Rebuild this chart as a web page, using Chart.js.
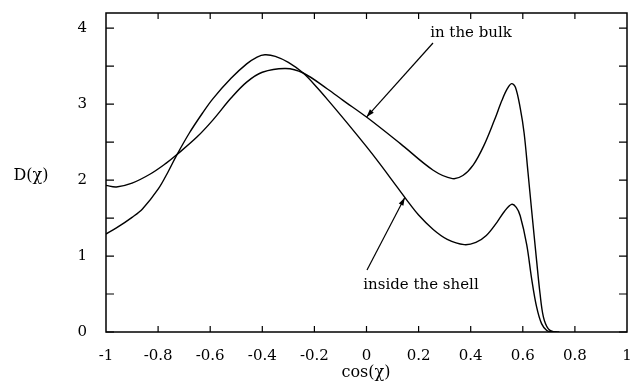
<!DOCTYPE html>
<html>
<head>
<meta charset="utf-8">
<script src="https://cdn.jsdelivr.net/npm/chart.js@4/dist/chart.umd.min.js"></script>
<style>
  html, body { margin: 0; padding: 0; background: #ffffff; }
  #wrap { width: 630px; height: 381px; }
</style>
</head>
<body>
<div id="wrap"><canvas id="c" width="630" height="381"></canvas></div>
<script>
// ---- data ----
const bulkX = [-1.00, -0.96, -0.90, -0.83, -0.77, -0.73, -0.65, -0.59, -0.52, -0.46, -0.40, -0.31, -0.243, -0.15, -0.09, 0.00, 0.13, 0.256, 0.33, 0.37, 0.41, 0.45, 0.49, 0.52, 0.54, 0.557, 0.572, 0.59, 0.605, 0.62, 0.634, 0.653, 0.666, 0.679, 0.698, 0.72, 0.74];
const bulkY = [1.93, 1.91, 1.96, 2.08, 2.22, 2.33, 2.57, 2.79, 3.08, 3.29, 3.42, 3.47, 3.41, 3.20, 3.05, 2.83, 2.48, 2.13, 2.02, 2.06, 2.20, 2.45, 2.78, 3.05, 3.20, 3.27, 3.22, 2.95, 2.62, 2.10, 1.60, 0.94, 0.51, 0.20, 0.04, 0.00, 0.00];

const shellX = [-1.00, -0.96, -0.90, -0.86, -0.80, -0.76, -0.73, -0.68, -0.63, -0.59, -0.52, -0.46, -0.42, -0.39, -0.35, -0.30, -0.243, -0.19, -0.147, -0.076, 0.00, 0.05, 0.10, 0.154, 0.20, 0.256, 0.31, 0.375, 0.42, 0.46, 0.50, 0.53, 0.557, 0.575, 0.59, 0.615, 0.634, 0.653, 0.672, 0.692, 0.71, 0.73];
const shellY = [1.29, 1.37, 1.51, 1.62, 1.88, 2.12, 2.32, 2.62, 2.88, 3.07, 3.34, 3.53, 3.62, 3.65, 3.63, 3.55, 3.41, 3.22, 3.05, 2.76, 2.44, 2.22, 1.99, 1.74, 1.54, 1.35, 1.22, 1.15, 1.18, 1.27, 1.44, 1.59, 1.68, 1.64, 1.53, 1.15, 0.70, 0.33, 0.11, 0.02, 0.00, 0.00];

const xTickValues = [-1, -0.8, -0.6, -0.4, -0.2, 0, 0.2, 0.4, 0.6, 0.8, 1];
const yTickValues = [0, 0.5, 1, 1.5, 2, 2.5, 3, 3.5, 4];
const yLabelValues = [0, 1, 2, 3, 4];
const xTitle = 'cos(\u03C7)';
const yTitle = 'D(\u03C7)';
const annBulk = 'in the bulk';
const annShell = 'inside the shell';

const FONT = '"DejaVu Serif", "Liberation Serif", serif';

function toPts(xs, ys) { return xs.map((x, i) => ({ x: x, y: ys[i] })); }

const framePlugin = {
  id: 'frame',
  afterDatasetsDraw(chart) {
    const ctx = chart.ctx;
    const a = chart.chartArea;
    const xs = chart.scales.x, ys = chart.scales.y;
    ctx.save();
    ctx.strokeStyle = '#000';
    ctx.lineWidth = 1.5;
    ctx.strokeRect(a.left, a.top, a.right - a.left, a.bottom - a.top);
    ctx.lineWidth = 1.2;
    ctx.beginPath();
    yTickValues.forEach(v => {
      const p = ys.getPixelForValue(v);
      ctx.moveTo(a.left, p); ctx.lineTo(a.left + 8, p);
      ctx.moveTo(a.right, p); ctx.lineTo(a.right - 8, p);
    });
    xTickValues.forEach(v => {
      if (v === -1 || v === 1) return;
      const p = xs.getPixelForValue(v);
      ctx.moveTo(p, a.bottom); ctx.lineTo(p, a.bottom - 6);
      ctx.moveTo(p, a.top); ctx.lineTo(p, a.top + 6);
    });
    ctx.stroke();

    function arrow(x0, y0, x1, y1) {
      ctx.beginPath();
      ctx.moveTo(x0, y0); ctx.lineTo(x1, y1);
      ctx.lineWidth = 1.2;
      ctx.stroke();
      const ang = Math.atan2(y1 - y0, x1 - x0);
      const L = 8, W = 2.6;
      ctx.beginPath();
      ctx.moveTo(x1, y1);
      ctx.lineTo(x1 - L * Math.cos(ang) + W * Math.sin(ang), y1 - L * Math.sin(ang) - W * Math.cos(ang));
      ctx.lineTo(x1 - L * Math.cos(ang) - W * Math.sin(ang), y1 - L * Math.sin(ang) + W * Math.cos(ang));
      ctx.closePath();
      ctx.fillStyle = '#000';
      ctx.fill();
    }
    arrow(433, 43, xs.getPixelForValue(0.0), ys.getPixelForValue(2.83));
    arrow(367, 270, xs.getPixelForValue(0.147), ys.getPixelForValue(1.77));

    ctx.fillStyle = '#000';
    ctx.font = '15px ' + FONT;
    ctx.textAlign = 'center';
    ctx.textBaseline = 'middle';
    ctx.fillText(annBulk, 471, 33);
    ctx.fillText(annShell, 421, 285);

    ctx.font = '16px ' + FONT;
    ctx.fillText(yTitle, 31, 176);
    ctx.fillText(xTitle, 366, 373);
    ctx.restore();
  }
};

new Chart(document.getElementById('c'), {
  type: 'line',
  data: {
    datasets: [
      { label: 'in the bulk', data: toPts(bulkX, bulkY), borderColor: '#000', borderWidth: 1.4, pointRadius: 0, fill: false, tension: 0.35 },
      { label: 'inside the shell', data: toPts(shellX, shellY), borderColor: '#000', borderWidth: 1.4, pointRadius: 0, fill: false, tension: 0.35 }
    ]
  },
  options: {
    responsive: false,
    animation: false,
    devicePixelRatio: 1,
    layout: { padding: { left: 0, right: 3, top: 13, bottom: 0 } },
    plugins: { legend: { display: false }, tooltip: { enabled: false } },
    scales: {
      x: {
        type: 'linear', min: -1, max: 1,
        afterBuildTicks: s => { s.ticks = xTickValues.map(v => ({ value: v })); },
        afterFit: s => { s.height = 49; s.paddingLeft = 0; s.paddingRight = 0; },
        grid: { display: false },
        border: { display: false },
        ticks: {
          color: '#000', font: { family: FONT, size: 15 }, padding: 7, maxRotation: 0,
          callback: v => String(Math.round(v * 10) / 10)
        }
      },
      y: {
        type: 'linear', min: 0, max: 4.2,
        afterBuildTicks: s => { s.ticks = yLabelValues.map(v => ({ value: v })); },
        afterFit: s => { s.width = 106; s.paddingTop = 0; s.paddingBottom = 0; },
        grid: { display: false },
        border: { display: false },
        ticks: {
          color: '#000', font: { family: FONT, size: 15 }, padding: 11,
          callback: v => String(v)
        }
      }
    }
  },
  plugins: [framePlugin]
});
</script>
</body>
</html>
